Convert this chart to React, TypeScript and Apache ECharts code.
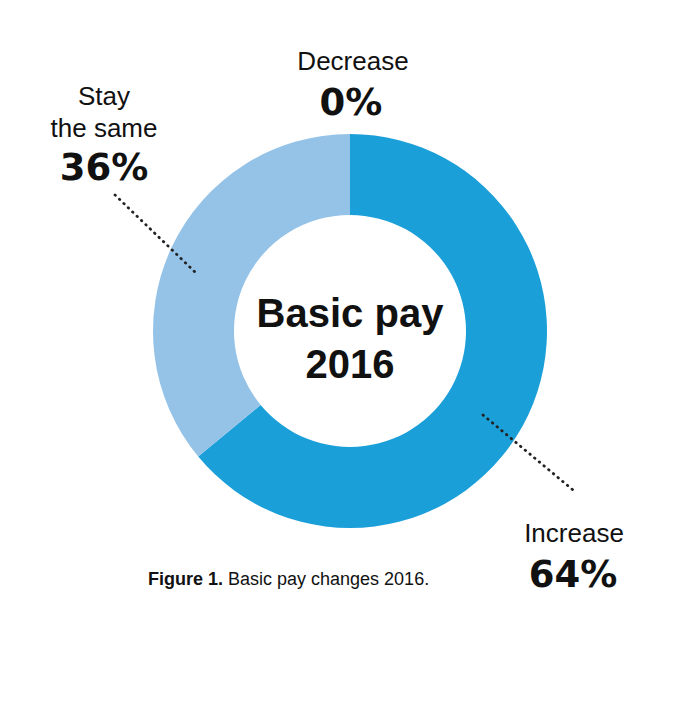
import React, { useEffect, useRef } from "react";
import * as echarts from "echarts";

const categories = ["Increase", "Stay the same", "Decrease"];
const values = [64, 36, 0];
const sliceColors = ["#1b9fd9", "#95c3e8", "#d0d0d0"];
const centerTitle = ["Basic pay", "2016"];
const captionBold = "Figure 1.";
const captionText = " Basic pay changes 2016.";

const LABEL_FONT = "'Liberation Sans', Arial, Helvetica, sans-serif";
const PCT_FONT = "'DejaVu Sans', 'Liberation Sans', sans-serif";

export default function App() {
  const ref = useRef<HTMLDivElement>(null);
  useEffect(() => {
    if (!ref.current) return;
    const chart = echarts.init(ref.current, undefined, { renderer: "svg" });
    const cx = 350;
    const cy = 331;

    const pct = (i: number) => `${values[i]}%`;

    const labelText = (
      x: number,
      y: number,
      text: string,
      size: number,
      weight: string,
      family: string
    ) => ({
      type: "text",
      x,
      y,
      z: 100,
      silent: true,
      style: {
        text,
        fill: "#111111",
        font: `${weight} ${size}px ${family}`,
        textAlign: "center",
        textVerticalAlign: "top",
      },
    });

    const dotted = (x1: number, y1: number, x2: number, y2: number) => ({
      type: "line",
      z: 100,
      silent: true,
      shape: { x1, y1, x2, y2 },
      style: {
        stroke: "#222222",
        lineWidth: 2.8,
        lineCap: "round",
        lineDash: [0.5, 5.6],
      },
    });

    chart.setOption({
      animation: false,
      series: [
        {
          type: "pie",
          center: [cx, cy],
          radius: [116, 197],
          startAngle: 90,
          clockwise: true,
          silent: true,
          z: 2,
          label: { show: false },
          labelLine: { show: false },
          emphasis: { disabled: true },
          itemStyle: { borderWidth: 0 },
          data: categories.map((name, i) => ({
            name,
            value: values[i],
            itemStyle: { color: sliceColors[i] },
          })),
        },
      ],
      graphic: [
        // center title
        labelText(cx, 293, centerTitle[0], 40, "bold", LABEL_FONT),
        labelText(cx, 344, centerTitle[1], 40, "bold", LABEL_FONT),
        // Decrease
        labelText(353, 48, categories[2], 26, "normal", LABEL_FONT),
        labelText(351, 84, pct(2), 37, "bold", PCT_FONT),
        // Stay the same
        labelText(104, 83, "Stay", 26, "normal", LABEL_FONT),
        labelText(104, 115, "the same", 26, "normal", LABEL_FONT),
        labelText(104, 149, pct(1), 37, "bold", PCT_FONT),
        // Increase
        labelText(574, 520, categories[0], 26, "normal", LABEL_FONT),
        labelText(573, 556, pct(0), 37, "bold", PCT_FONT),
        // leader lines
        dotted(115, 195, 195, 272),
        dotted(483, 415, 573, 490),
        // caption
        {
          type: "text",
          x: 148,
          y: 570,
          z: 100,
          silent: true,
          style: {
            text: `{b|${captionBold}}{r|${captionText}}`,
            textVerticalAlign: "top",
            rich: {
              b: {
                fontFamily: LABEL_FONT,
                fontWeight: "bold",
                fontSize: 18,
                fill: "#111111",
              },
              r: {
                fontFamily: LABEL_FONT,
                fontWeight: "normal",
                fontSize: 18,
                fill: "#111111",
              },
            },
          },
        },
      ],
    });
    return () => chart.dispose();
  }, []);
  return (
    <div
      ref={ref}
      style={{
        position: "fixed",
        left: 0,
        top: 0,
        width: 700,
        height: 714,
        background: "#ffffff",
      }}
    />
  );
}
